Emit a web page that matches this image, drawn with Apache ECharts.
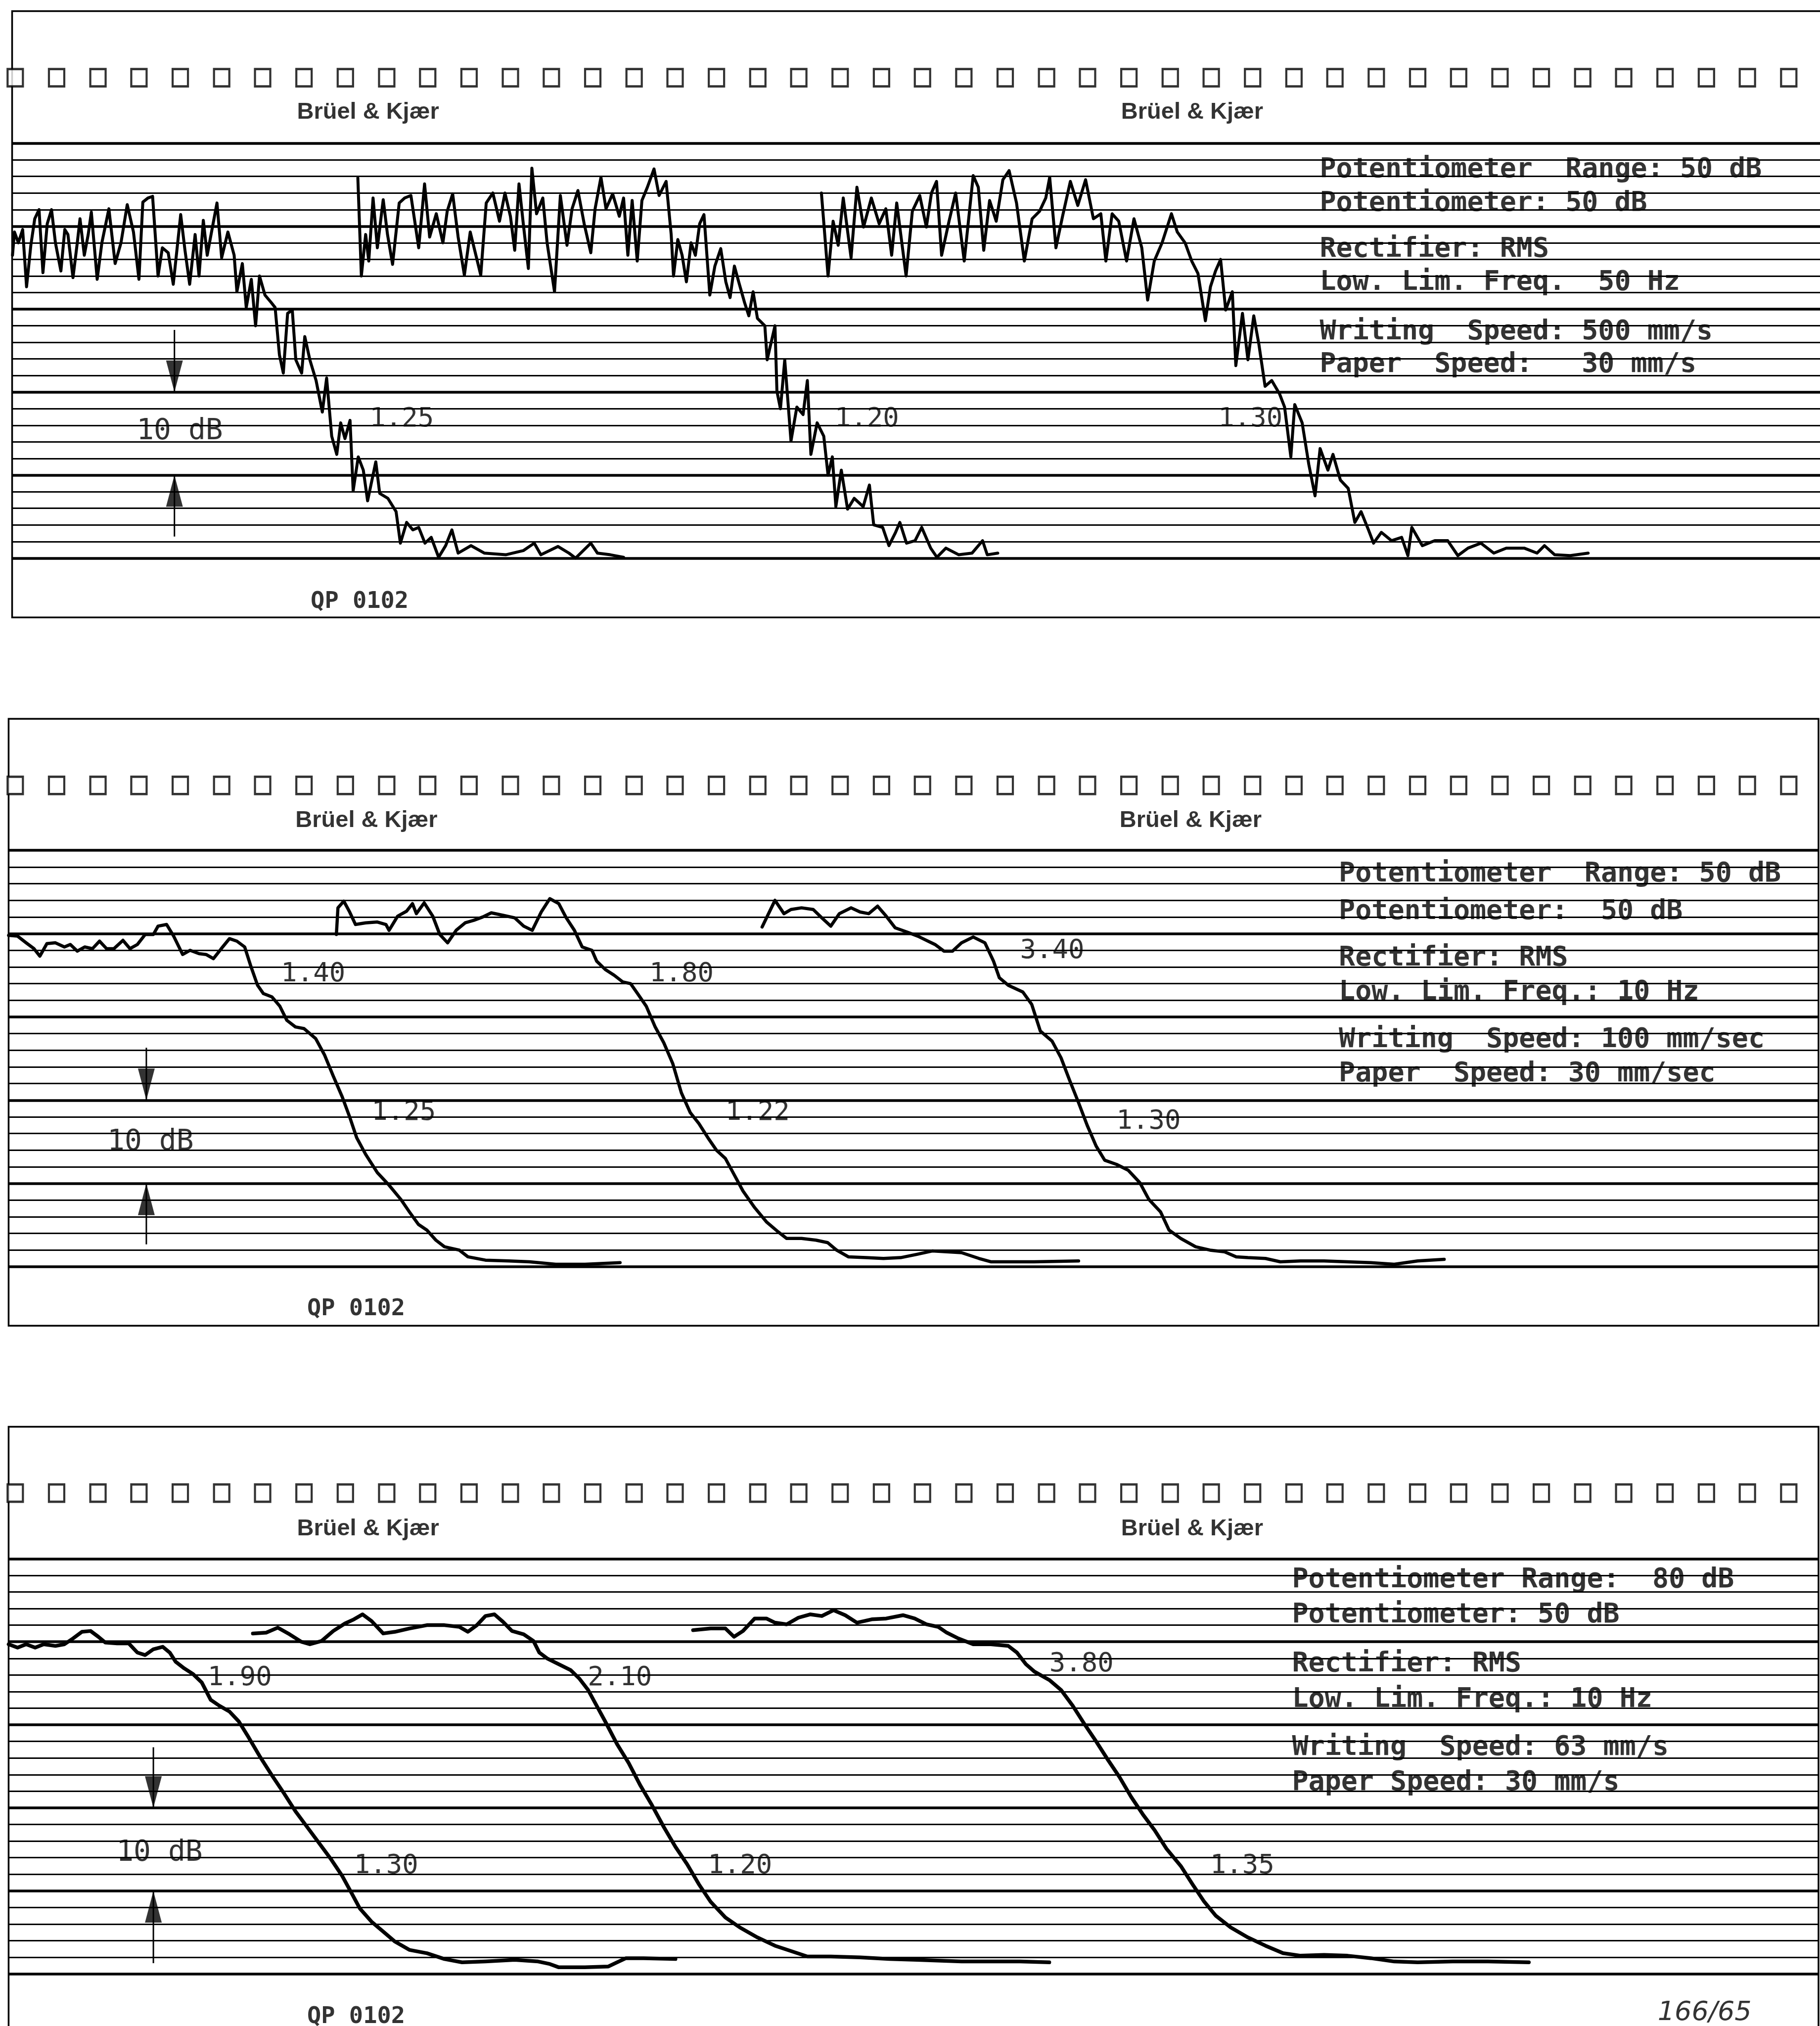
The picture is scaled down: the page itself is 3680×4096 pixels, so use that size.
<!DOCTYPE html>
<html>
<head>
<meta charset="utf-8">
<title>Level recorder strips</title>
<script src="https://cdn.jsdelivr.net/npm/echarts@6.0.0/dist/echarts.min.js"></script>
<style>
html, body { margin: 0; padding: 0; background: #fff; }
#chart { width: 3680px; height: 4096px; }
</style>
</head>
<body>
<div id="chart"></div>
<script>
// x: position along the paper strip, y: level in dB (grid line every 2 dB, 50 dB range)

var sprocketX = [3.9, 14.5, 25.1, 35.6, 46.2, 56.8, 67.3, 77.9, 88.5, 99.1, 109.6, 120.2, 130.8, 141.3,
  151.9, 162.5, 173.0, 183.6, 194.2, 204.7, 215.3, 225.9, 236.4, 247.0, 257.6, 268.2, 278.7, 289.3,
  299.9, 310.4, 321.0, 331.6, 342.1, 352.7, 363.3, 373.8, 384.4, 395.0, 405.6, 416.1, 426.7, 437.3,
  447.8, 458.4];

// strip 1 : writing speed 500 mm/s
var p1A = [[3.2,36.5],[3.7,39.3],[4.7,38.0],[5.8,39.6],[6.8,32.7],[7.9,37.7],[8.9,40.9],[10.0,42.0],[11.0,34.4],[12.1,40.3],[13.2,42.0],[14.2,38.0],[15.6,34.6],[16.6,39.6],[17.4,39.0],[18.7,33.8],[19.8,38.0],[20.5,40.9],[21.6,36.5],[22.6,39.0],[23.4,41.7],[24.9,33.6],[26.1,38.0],[27.9,42.1],[29.5,35.5],[31.0,38.0],[32.6,42.6],[34.2,39.3],[35.6,33.6],[36.6,42.9],[37.9,43.4],[39.1,43.6],[40.5,34.0],[41.6,37.4],[43.1,36.8],[44.4,33.0],[46.3,41.4],[47.4,37.1],[48.6,33.0],[50.0,39.0],[51.0,34.0],[52.1,40.7],[53.1,36.5],[54.2,39.3],[55.6,42.8],[56.8,36.2],[58.4,39.3],[60.0,36.5],[60.7,32.1],[62.1,35.5],[63.1,30.2],[64.4,33.6],[65.5,28.0],[66.5,34.0],[67.9,31.7],[69.5,30.8],[70.5,30.2],[71.6,24.5],[72.6,22.3],[73.7,29.5],[74.9,29.9],[75.8,23.9],[77.3,22.3],[78.1,26.7],[79.4,23.9],[81.0,21.4],[82.6,17.6],[83.7,21.7],[85.0,14.7],[86.3,12.5],[87.3,16.3],[88.4,14.4],[89.7,16.6],[90.5,8.1],[91.8,12.2],[93.1,10.6],[94.2,6.9],[96.3,11.6],[97.3,7.8],[99.4,7.2],[101.5,5.6],[102.6,1.8],[104.2,4.3],[105.8,3.4],[107.3,3.7],[108.9,1.8],[110.5,2.5],[112.4,0.1],[114.2,1.5],[115.8,3.4],[117.4,0.6],[120.7,1.5],[124.1,0.6],[129.6,0.4],[134.1,0.9],[136.9,1.8],[138.6,0.4],[143.0,1.4],[145.8,0.6],[147.5,0.0],[151.4,1.8],[153.1,0.6],[156.4,0.4],[159.8,0.1]];
var p1B = [[91.7,45.8],[92.6,34.0],[93.7,39.0],[94.5,35.8],[95.6,43.4],[96.7,37.4],[98.2,43.2],[99.3,39.0],[100.6,35.4],[102.3,42.8],[103.7,43.4],[105.3,43.7],[107.3,37.4],[108.8,45.1],[110.1,38.7],[111.8,41.5],[113.5,38.0],[114.6,41.8],[116.0,43.9],[117.4,38.7],[119.0,34.1],[120.5,39.3],[121.8,36.8],[123.2,34.1],[124.6,42.8],[126.3,44.0],[128.0,40.6],[129.4,44.0],[130.8,41.2],[131.9,37.1],[133.0,45.1],[134.1,40.3],[135.4,34.9],[136.3,47.0],[137.5,41.5],[139.1,43.4],[140.2,38.0],[142.1,32.1],[143.6,43.7],[145.3,37.7],[146.6,42.1],[148.1,44.3],[149.7,40.3],[151.4,36.8],[152.5,42.1],[154.0,45.9],[155.3,42.1],[157.0,43.9],[158.7,41.2],[159.8,43.4],[160.9,36.5],[162.0,43.1],[163.3,35.8],[164.5,43.1],[165.9,44.7],[167.6,46.9],[168.9,43.7],[170.7,45.4],[172.0,39.0],[172.6,34.0],[173.7,38.4],[174.8,36.5],[175.9,33.3],[177.1,38.0],[178.2,36.5],[179.3,40.3],[180.4,41.4],[181.9,31.7],[183.2,35.2],[184.7,37.3],[186.0,33.3],[187.1,31.4],[188.2,35.2],[189.3,33.3],[190.8,30.8],[191.9,29.2],[193.0,32.1],[194.1,28.9],[196.0,28.0],[196.6,23.9],[198.6,28.0],[199.1,20.1],[200.0,18.0],[201.1,23.9],[202.7,14.1],[204.2,18.2],[205.8,17.3],[206.9,21.4],[207.8,12.5],[209.4,16.3],[211.1,14.7],[212.2,10.0],[213.3,12.2],[214.2,6.2],[215.6,10.6],[217.2,5.9],[218.9,7.2],[221.2,6.2],[222.8,8.8],[223.9,4.0],[226.2,3.7],[227.8,1.5],[229.5,3.1],[230.6,4.3],[232.3,1.8],[234.5,2.1],[236.2,3.7],[238.5,1.2],[240.1,0.1],[242.4,1.2],[245.7,0.4],[249.1,0.6],[251.8,2.1],[253.0,0.4],[255.7,0.6]];
var p1C = [[210.5,44.0],[212.2,34.0],[213.5,40.6],[214.8,37.7],[216.1,43.4],[218.1,36.2],[219.6,44.7],[221.3,39.9],[223.3,43.4],[225.3,40.3],[227.0,42.1],[228.5,36.5],[229.8,42.8],[232.2,34.0],[233.8,41.8],[235.7,43.7],[237.4,39.9],[238.7,44.0],[240.0,45.4],[241.3,36.5],[243.2,40.6],[244.9,44.0],[247.1,35.8],[249.4,46.1],[250.7,44.7],[252.1,37.1],[253.6,43.1],[255.3,40.6],[257.0,45.6],[258.6,46.7],[260.5,42.8],[262.5,35.8],[264.5,40.9],[266.4,41.8],[268.0,43.4],[269.0,45.9],[270.6,37.4],[272.3,41.2],[274.3,45.4],[276.2,42.5],[278.2,45.6],[280.2,40.9],[282.1,41.5],[283.4,35.8],[285.0,41.5],[286.7,40.6],[288.7,35.8],[290.6,40.9],[292.6,37.4],[294.1,31.1],[295.8,35.8],[297.8,38.0],[300.2,41.5],[301.7,39.3],[303.7,38.0],[305.4,35.8],[307.0,34.3],[308.9,28.6],[310.2,32.7],[311.5,34.6],[312.8,36.0],[314.1,29.9],[315.8,32.1],[316.7,23.2],[318.4,29.5],[319.8,23.9],[321.3,29.2],[322.6,25.8],[324.2,20.7],[325.9,21.4],[327.9,19.8],[329.2,18.2],[330.8,12.2],[331.8,18.5],[333.7,16.3],[335.4,11.3],[337.0,7.5],[338.3,13.2],[340.3,10.6],[341.6,12.5],[343.5,9.4],[345.5,8.4],[347.2,4.3],[348.8,5.6],[350.7,3.4],[352.0,1.8],[354.0,3.1],[356.6,2.1],[359.2,2.5],[360.8,0.3],[361.8,3.7],[364.5,1.5],[367.7,2.1],[371.0,2.1],[373.6,0.3],[376.2,1.2],[379.5,1.8],[382.8,0.6],[386.0,1.2],[390.6,1.2],[393.9,0.6],[395.8,1.5],[398.4,0.4],[402.4,0.3],[407.0,0.6]];
var p1Labels = [['1.25', 94.7, 16.7], ['1.20', 213.9, 16.7], ['1.30', 312.2, 16.7]];
var p1Info = ['Potentiometer  Range: 50 dB', 'Potentiometer: 50 dB', 'Rectifier: RMS', 'Low. Lim. Freq.  50 Hz', 'Writing  Speed: 500 mm/s', 'Paper  Speed:   30 mm/s'];
var p1InfoY = [46.8, 42.7, 37.2, 33.2, 27.2, 23.3];

// strip 2 : writing speed 100 mm/sec
var p2A = [[2.2,39.8],[4.5,39.7],[6.7,38.9],[8.7,38.2],[10.2,37.3],[12.0,38.8],[14.2,38.9],[16.5,38.4],[18.0,38.7],[19.8,37.9],[21.7,38.4],[23.7,38.2],[25.5,39.1],[27.3,38.2],[29.2,38.2],[31.5,39.2],[33.3,38.2],[35.2,38.7],[37.2,39.9],[39.3,39.9],[40.5,40.9],[42.7,41.1],[44.5,39.7],[46.8,37.5],[48.7,38.0],[51.0,37.6],[52.8,37.5],[54.7,37.0],[56.7,38.2],[58.8,39.4],[60.7,39.1],[62.7,38.4],[64.2,36.2],[66.0,33.8],[67.5,32.8],[69.7,32.4],[71.7,31.3],[73.5,29.6],[75.7,28.8],[77.9,28.6],[80.9,27.4],[83.2,25.4],[85.4,22.9],[87.7,20.4],[89.6,18.0],[91.4,15.5],[93.7,13.5],[96.7,11.3],[99.7,9.8],[102.7,8.1],[104.9,6.6],[107.2,5.1],[109.4,4.4],[111.7,3.2],[113.9,2.4],[117.7,2.0],[119.9,1.2],[124.4,0.8],[130.4,0.7],[135.7,0.6],[142.4,0.3],[149.9,0.3],[158.9,0.5]];
var p2B = [[86.2,39.9],[86.6,43.1],[88.1,43.9],[89.6,42.6],[91.1,41.1],[93.7,41.3],[96.7,41.4],[98.9,41.1],[99.7,40.4],[101.9,42.1],[104.2,42.7],[105.7,43.6],[106.7,42.4],[108.7,43.7],[110.9,42.1],[112.7,39.9],[114.7,38.9],[116.9,40.4],[119.2,41.3],[121.4,41.6],[123.7,42.0],[125.9,42.5],[128.9,42.2],[131.9,41.9],[134.2,40.9],[136.4,40.4],[138.7,42.6],[140.9,44.2],[143.2,43.6],[145.1,41.9],[147.2,40.4],[149.2,38.4],[151.7,38.0],[152.9,36.7],[155.1,35.7],[157.4,35.0],[159.6,34.2],[161.6,34.0],[163.4,32.8],[165.6,31.3],[167.9,28.8],[170.1,26.9],[172.4,24.4],[174.6,20.9],[176.9,18.5],[179.1,17.2],[181.4,15.5],[183.6,14.0],[185.9,13.0],[188.1,11.1],[190.4,9.1],[193.4,7.1],[196.4,5.4],[199.4,4.2],[201.6,3.4],[205.4,3.4],[209.1,3.2],[212.1,2.9],[214.4,2.0],[217.4,1.2],[221.9,1.1],[226.4,1.0],[230.8,1.1],[235.0,1.5],[238.9,1.9],[246.4,1.7],[250.9,1.0],[253.9,0.6],[265.0,0.6],[276.4,0.7]];
var p2C = [[195.3,40.8],[198.6,44.0],[200.9,42.4],[202.7,42.9],[205.4,43.1],[208.4,42.9],[210.6,41.9],[212.9,40.9],[215.1,42.4],[218.1,43.1],[220.4,42.6],[222.6,42.4],[224.9,43.3],[227.1,42.1],[229.4,40.7],[232.4,40.2],[235.2,39.7],[237.4,39.2],[239.6,38.7],[241.9,37.9],[244.1,37.9],[246.4,38.9],[249.4,39.6],[252.4,38.9],[254.6,36.7],[256.1,34.7],[258.4,33.8],[262.1,33.0],[264.4,31.5],[266.6,28.3],[269.6,27.1],[271.9,25.1],[274.1,22.4],[276.4,19.7],[278.6,17.0],[280.9,14.5],[283.1,12.8],[286.1,12.3],[289.1,11.6],[292.1,10.1],[294.4,8.1],[297.4,6.6],[299.6,4.4],[302.6,3.4],[306.4,2.4],[310.1,2.0],[313.8,1.8],[316.8,1.2],[319.8,1.1],[324.3,1.0],[328.1,0.6],[333.3,0.7],[339.3,0.7],[345.3,0.6],[351.3,0.5],[357.3,0.3],[363.3,0.7],[370.1,0.9]];
var p2Labels = [['1.40', 72.0, 35.1], ['1.80', 166.4, 35.1], ['1.25', 95.2, 18.5], ['1.22', 185.9, 18.5], ['3.40', 261.4, 37.9], ['1.30', 286.1, 17.4]];
var p2Info = ['Potentiometer  Range: 50 dB', 'Potentiometer:  50 dB', 'Rectifier: RMS', 'Low. Lim. Freq.: 10 Hz', 'Writing  Speed: 100 mm/sec', 'Paper  Speed: 30 mm/sec'];
var p2InfoY = [47.1, 42.6, 37.0, 32.9, 27.2, 23.1];

// strip 3 : writing speed 63 mm/s
var p3A = [[2.2,39.7],[4.5,39.3],[6.7,39.7],[9.0,39.3],[11.2,39.7],[14.2,39.5],[16.5,39.7],[18.7,40.4],[21.0,41.2],[23.2,41.3],[25.2,40.6],[27.0,39.9],[30.0,39.8],[33.0,39.8],[35.2,38.7],[37.2,38.4],[39.3,39.1],[41.7,39.4],[43.5,38.7],[45.0,37.6],[47.2,36.8],[49.5,36.1],[51.7,35.1],[54.0,33.0],[56.2,32.3],[58.8,31.6],[61.2,30.4],[63.7,28.5],[66.7,26.1],[69.7,23.9],[72.7,21.8],[75.7,19.6],[78.7,17.7],[81.7,15.8],[84.7,13.9],[87.7,11.8],[89.9,9.9],[92.2,7.9],[95.2,6.3],[98.2,5.1],[101.2,3.9],[104.9,2.9],[109.4,2.5],[113.9,1.8],[118.4,1.4],[124.4,1.5],[131.9,1.7],[137.9,1.5],[140.9,1.2],[143.2,0.8],[149.9,0.8],[155.9,0.9],[158.1,1.4],[160.4,1.9],[164.9,1.9],[173.1,1.8]];
var p3B = [[64.8,41.0],[68.2,41.1],[71.2,41.7],[74.2,40.9],[77.2,40.0],[79.4,39.7],[82.4,40.1],[85.4,41.3],[88.4,42.2],[90.7,42.7],[92.9,43.3],[95.2,42.5],[98.2,41.0],[101.2,41.2],[104.9,41.6],[109.4,42.0],[113.9,42.0],[117.7,41.8],[119.9,41.2],[122.2,42.0],[124.4,43.1],[126.7,43.3],[128.9,42.4],[131.2,41.3],[134.2,40.9],[136.7,40.1],[138.2,38.7],[140.2,38.0],[143.2,37.3],[146.2,36.6],[148.4,35.6],[150.7,34.2],[152.9,32.3],[155.1,30.4],[158.1,27.7],[161.1,25.4],[164.1,22.7],[167.1,20.3],[170.1,17.7],[173.1,15.3],[176.1,13.2],[179.1,10.8],[182.1,8.7],[185.9,6.8],[189.6,5.6],[194.1,4.4],[198.6,3.4],[203.1,2.7],[206.9,2.1],[212.9,2.1],[220.4,2.0],[227.9,1.8],[235.0,1.7],[246.4,1.5],[261.4,1.5],[268.9,1.4]];
var p3C = [[177.6,41.4],[182.1,41.6],[185.9,41.6],[188.1,40.6],[190.4,41.3],[193.4,42.8],[196.4,42.8],[198.6,42.3],[201.6,42.1],[204.6,42.9],[207.6,43.3],[210.6,43.1],[213.6,43.8],[216.6,43.2],[219.6,42.3],[223.4,42.7],[227.1,42.8],[231.4,43.2],[234.4,42.8],[237.4,42.1],[240.4,41.8],[242.6,41.1],[245.6,40.4],[249.4,39.7],[253.9,39.7],[258.4,39.5],[260.6,38.7],[262.9,37.3],[265.1,36.4],[268.9,35.4],[271.9,34.2],[274.9,32.3],[277.9,30.1],[280.9,28.0],[283.9,25.8],[286.9,23.7],[289.9,21.3],[292.9,19.2],[295.9,17.3],[298.9,15.1],[302.6,13.0],[305.6,10.8],[308.6,8.7],[311.6,7.0],[315.4,5.6],[319.8,4.4],[324.3,3.4],[328.8,2.5],[333.3,2.2],[339.3,2.3],[345.3,2.2],[351.3,1.9],[357.3,1.5],[363.3,1.4],[372.3,1.5],[381.3,1.5],[391.8,1.4]];
var p3Labels = [['1.90', 53.2, 35.6], ['2.10', 150.6, 35.6], ['1.30', 90.7, 13.0], ['1.20', 181.4, 13.0], ['3.80', 268.9, 37.3], ['1.35', 310.1, 13.0]];
var p3Info = ['Potentiometer Range:  80 dB', 'Potentiometer: 50 dB', 'Rectifier: RMS', 'Low. Lim. Freq.: 10 Hz', 'Writing  Speed: 63 mm/s', 'Paper Speed: 30 mm/s'];
var p3InfoY = [47.4, 43.2, 37.3, 33.0, 27.2, 23.0];

var W = 3680;
var PX_PER_UNIT = 7.89;
var MONO = "'DejaVu Sans Mono', 'Liberation Mono', monospace";

// page geometry of the three strips (px)
var strips = [
  { top: 22.6, bottom: 1248.2, chartTop: 289.6, chartBottom: 1128.3, left: 24.5, right: 0, frameRight: -4, xMin: 3.1,
    traces: [p1A, p1B, p1C], lineW: 6, labels: p1Labels, info: p1Info, infoY: p1InfoY, infoX: 338.2,
    scaleLabel: [35.0, 15.2],
    brandX: [76.1, 287.3], brandY: 53.7, qpX: 79.6, qpY: -5.3, holeY: 57.9, arrowX: 44.7, arrowDown: 27.5, arrowUp: 2.6 },
  { top: 1453.3, bottom: 2680.2, chartTop: 1719.2, chartBottom: 2561.1, left: 17.4, right: 3, frameRight: 3, xMin: 2.2,
    traces: [p2A, p2B, p2C], lineW: 6.5, labels: p2Labels, info: p2Info, infoY: p2InfoY, infoX: 343.1,
    scaleLabel: [27.5, 14.9],
    brandX: [75.7, 286.9], brandY: 53.6, qpX: 78.7, qpY: -5.1, holeY: 57.8, arrowX: 37.5, arrowDown: 26.3, arrowUp: 2.7 },
  { top: 2884.6, bottom: 4110, chartTop: 3151.3, chartBottom: 3990.8, left: 17.4, right: 3, frameRight: 3, xMin: 2.2,
    traces: [p3A, p3B, p3C], lineW: 7.5, labels: p3Labels, info: p3Info, infoY: p3InfoY, infoX: 331.1,
    scaleLabel: [29.8, 14.5],
    brandX: [76.1, 287.3], brandY: 53.6, qpX: 78.7, qpY: -5.2, holeY: 57.9, arrowX: 39.3, arrowDown: 27.3, arrowUp: 1.3,
    extra: [['166/65', 424.8, -4.7]] }
];

function textSeries(xi, yi, items, font) {
  return {
    type: 'scatter', xAxisIndex: xi, yAxisIndex: yi, symbolSize: 1, silent: true,
    itemStyle: { color: 'rgba(0,0,0,0)' },
    data: items.map(function (t) { return { name: t[0], value: [t[1], t[2]] }; }),
    label: Object.assign({ show: true, position: 'inside', align: 'left', verticalAlign: 'middle',
      formatter: '{b}', color: '#000' }, font)
  };
}

var grid = [], xAxis = [], yAxis = [], series = [];

strips.forEach(function (s, p) {
  var fi = 2 * p, ci = 2 * p + 1;
  var pxPerDb = (s.chartBottom - s.chartTop) / 50;
  var frameMax = 50 + (s.chartTop - s.top) / pxPerDb;
  var frameMin = -(s.bottom - s.chartBottom) / pxPerDb;

  // paper outline
  grid.push({ left: s.left, right: s.frameRight, top: s.top, height: s.bottom - s.top,
    show: true, borderColor: '#000', borderWidth: 3.5, backgroundColor: 'transparent', outerBoundsMode: 'none' });
  // ruled recording area
  grid.push({ left: s.left, right: s.right, top: s.chartTop, height: s.chartBottom - s.chartTop, outerBoundsMode: 'none' });

  xAxis.push({ gridIndex: fi, type: 'value', min: s.xMin, max: s.xMin + (W - s.left - s.frameRight) / PX_PER_UNIT, show: false });
  xAxis.push({ gridIndex: ci, type: 'value', min: s.xMin, max: s.xMin + (W - s.left - s.right) / PX_PER_UNIT, show: false });

  yAxis.push({ gridIndex: fi, type: 'value', min: frameMin, max: frameMax, show: false });
  yAxis.push({ gridIndex: ci, type: 'value', min: 0, max: 50, interval: 2,
    axisLine: { show: false }, axisTick: { show: false }, axisLabel: { show: false },
    splitLine: { show: true, lineStyle: { color: '#000', width: 3 } } });
  yAxis.push({ gridIndex: ci, type: 'value', min: 0, max: 50, interval: 10, position: 'right',
    axisLine: { show: false }, axisTick: { show: false }, axisLabel: { show: false },
    splitLine: { show: true, lineStyle: { color: '#000', width: 5.5 } } });

  var fy = 3 * p, cy = 3 * p + 1;

  // sprocket holes
  series.push({
    type: 'scatter', xAxisIndex: fi, yAxisIndex: fy, symbol: 'rect', symbolSize: [31, 35], silent: true,
    itemStyle: { color: '#fff', borderColor: '#000', borderWidth: 4.5 },
    data: sprocketX.map(function (x) { return [x, s.holeY]; })
  });
  series.push(textSeries(fi, fy, s.brandX.map(function (x) { return ['Brüel & Kjær', x, s.brandY]; }),
    { fontFamily: "'Liberation Sans', Arial, sans-serif", fontWeight: 'bold', fontSize: 47 }));
  series.push(textSeries(fi, fy, [['QP 0102', s.qpX, s.qpY]],
    { fontFamily: MONO, fontWeight: 'bold', fontSize: 47 }));
  if (s.extra) {
    series.push(textSeries(fi, fy, s.extra,
      { fontFamily: "'DejaVu Sans', sans-serif", fontStyle: 'italic', fontSize: 54 }));
  }

  // decay traces
  s.traces.forEach(function (tr) {
    series.push({
      type: 'line', xAxisIndex: ci, yAxisIndex: cy, data: tr, symbol: 'none', silent: true, clip: false,
      lineStyle: { color: '#000', width: s.lineW, join: 'round', cap: 'round' }
    });
  });

  // 10 dB scale arrows
  series.push({ type: 'line', xAxisIndex: ci, yAxisIndex: cy, symbol: 'none', silent: true,
    lineStyle: { color: '#000', width: 3 }, data: [[s.arrowX, s.arrowDown], [s.arrowX, 20]] });
  series.push({ type: 'line', xAxisIndex: ci, yAxisIndex: cy, symbol: 'none', silent: true,
    lineStyle: { color: '#000', width: 3 }, data: [[s.arrowX, s.arrowUp], [s.arrowX, 10]] });
  series.push({ type: 'scatter', xAxisIndex: ci, yAxisIndex: cy, silent: true,
    symbol: 'path://M0,0L10,0L5,24Z', symbolSize: [34, 64], symbolOffset: [0, '-50%'],
    itemStyle: { color: '#000' }, data: [[s.arrowX, 20]] });
  series.push({ type: 'scatter', xAxisIndex: ci, yAxisIndex: cy, silent: true,
    symbol: 'path://M5,0L10,24L0,24Z', symbolSize: [34, 64], symbolOffset: [0, '50%'],
    itemStyle: { color: '#000' }, data: [[s.arrowX, 10]] });

  // reverberation times and scale label
  series.push(textSeries(ci, cy, s.labels, { fontFamily: MONO, fontSize: 54 }));
  series.push(textSeries(ci, cy, [['10 dB', s.scaleLabel[0], s.scaleLabel[1]]], { fontFamily: MONO, fontSize: 58 }));

  // recorder settings
  series.push(textSeries(ci, cy, s.info.map(function (t, i) { return [t, s.infoX, s.infoY[i]]; }),
    { fontFamily: MONO, fontWeight: 'bold', fontSize: 55 }));
});

var myChart = echarts.init(document.getElementById('chart'));
myChart.setOption({
  animation: false,
  backgroundColor: '#fff',
  grid: grid,
  xAxis: xAxis,
  yAxis: yAxis,
  series: series
});
</script>
</body>
</html>
